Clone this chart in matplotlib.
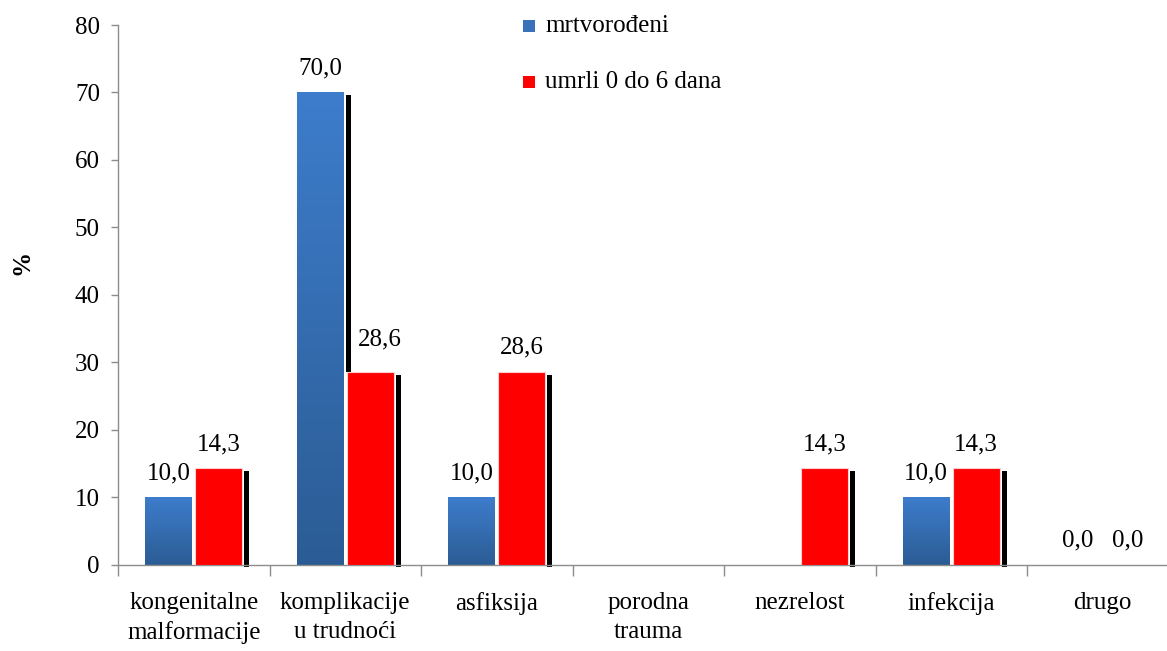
import numpy as np
import matplotlib
matplotlib.use("Agg")
import matplotlib.pyplot as plt
from matplotlib.patches import Rectangle

categories = ["kongenitalne\nmalformacije", "komplikacije\nu trudnoći", "asfiksija",
              "porodna\ntrauma", "nezrelost", "infekcija", "drugo"]
series_names = ["mrtvorođeni", "umrli 0 do 6 dana"]
mrtvorodjeni = [10.0, 70.0, 10.0, np.nan, np.nan, 10.0, 0.0]
umrli = [14.3, 28.6, 28.6, np.nan, 14.3, 14.3, 0.0]
yticks = [0, 10, 20, 30, 40, 50, 60, 70, 80]

plt.rcParams['font.family'] = ['Liberation Serif', 'DejaVu Serif']
FS = 18

W, H = 1167, 651
fig = plt.figure(figsize=(W / 100, H / 100), dpi=100)
left_px, right_px, bot_px, top_px = 118, 1178.5, 564.5, 25
ax = fig.add_axes([left_px / W, 1 - bot_px / H, (right_px - left_px) / W, (bot_px - top_px) / H])

x = np.arange(len(categories))
bw = 0.31
off = 0.165
px_x = 1.0 / 151.5
px_y = 80.0 / (bot_px - top_px)

blue_top = np.array([0.24, 0.49, 0.80])
blue_bot = np.array([0.17, 0.36, 0.58])
red = "#FF0000"

def shadow(xc, h, bottom, z):
    if np.isnan(h) or h <= 0:
        return
    top = h - 3 * px_y
    if top <= bottom:
        return
    r = Rectangle((xc + bw / 2 + 2 * px_x, bottom), 5 * px_x, top - bottom,
                  facecolor="black", edgecolor="none", zorder=z, clip_on=False)
    ax.add_patch(r)

# blue bars (gradient)
for xi, v, vr in zip(x, mrtvorodjeni, umrli):
    xc = xi - off
    shadow(xc, v, (vr if not np.isnan(vr) else -2 * px_y), 1)
    if np.isnan(v) or v <= 0:
        continue
    bar = ax.bar(xc, v, width=bw, color=blue_top, edgecolor="white", linewidth=0.8, zorder=2)[0]
    t = np.linspace(0, 1, 256)
    img = np.zeros((256, 1, 3))
    for k in range(3):
        img[:, 0, k] = blue_bot[k] + (blue_top[k] - blue_bot[k]) * t
    im = ax.imshow(img, extent=[xc - bw / 2, xc + bw / 2, 0, v], origin="lower",
                   aspect="auto", zorder=2.1, interpolation="bilinear")
    im.set_clip_path(bar)

# red bars
for xi, v in zip(x, umrli):
    xc = xi + off
    shadow(xc, v, -2 * px_y, 2.5)
    if np.isnan(v) or v <= 0:
        continue
    ax.bar(xc, v, width=bw, color=red, edgecolor="#FFD0D0", linewidth=0.8, zorder=3)

# value labels (one label nudged to clear the neighbouring bar's shadow, as in the original)
nudge = {(1, 1): (7, 19)}
for si, (vals, sgn) in enumerate([(mrtvorodjeni, -1), (umrli, 1)]):
    for xi, v in zip(x, vals):
        if np.isnan(v):
            continue
        dx, dy = nudge.get((si, xi), (0, 13))
        ax.annotate(f"{v:.1f}".replace(".", ","), (xi + sgn * off, v), xytext=(dx, dy),
                    textcoords="offset points", ha="center", va="baseline", fontsize=FS, zorder=5)

ax.set_xlim(-0.5, len(categories) - 0.5)
ax.set_ylim(0, 80)
ax.set_yticks(yticks)
ax.set_yticklabels([str(t) for t in yticks], fontsize=FS)
ax.set_xticks(np.arange(len(categories) + 1) - 0.5)
ax.set_xticklabels([])
ax.set_xticks(x, minor=True)
ax.set_xticklabels(categories, minor=True, fontsize=FS, linespacing=1.4, va="top")

gray = "#8C8C8C"
for s in ["top", "right"]:
    ax.spines[s].set_visible(False)
for s in ["left", "bottom"]:
    ax.spines[s].set_color(gray)
    ax.spines[s].set_linewidth(1.0)
ax.tick_params(axis="y", direction="out", length=5, color=gray, width=1.0, pad=8)
ax.tick_params(axis="x", which="major", direction="out", length=8, color=gray, width=1.0)
ax.tick_params(axis="x", which="minor", length=0, pad=20)

fig.text(22 / W, 1 - 262 / H, "%", rotation=90, ha="center", va="center",
         fontsize=FS, fontweight="bold")

# legend
for (yc, col, lab) in [(26, "#3A72BA", series_names[0]), (82, red, series_names[1])]:
    fig.patches.append(Rectangle((523 / W, 1 - (yc + 6) / H), 12 / W, 12 / H,
                                 facecolor=col, edgecolor="none", transform=fig.transFigure, figure=fig))
    fig.text(545 / W, 1 - yc / H, lab, ha="left", va="center", fontsize=FS)

fig.savefig("out.png", dpi=100)
